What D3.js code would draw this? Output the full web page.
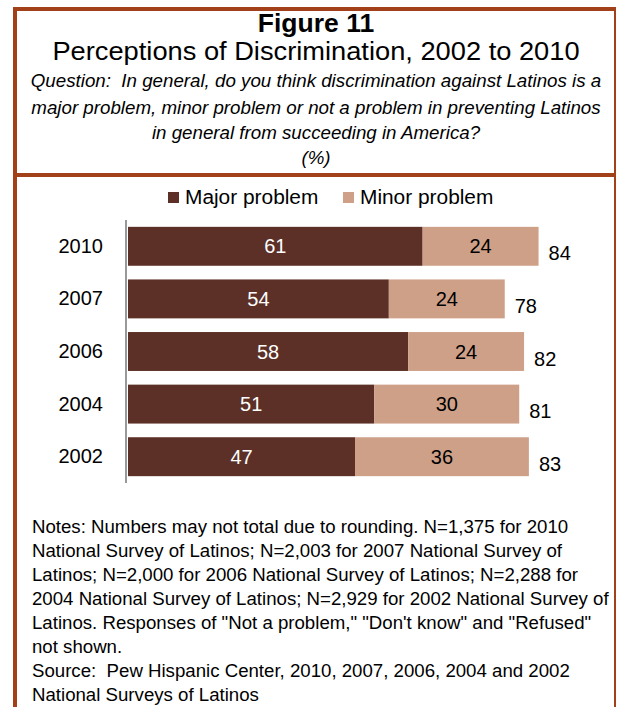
<!DOCTYPE html>
<html>
<head>
<meta charset="utf-8">
<script src="https://cdn.jsdelivr.net/npm/d3@7"></script>
<style>
  html, body { margin: 0; padding: 0; background: #fff; }
  svg { display: block; font-family: "Liberation Sans", Arial, sans-serif; }
  svg text { white-space: pre; }
</style>
</head>
<body>
<svg id="chart" width="618" height="707"></svg>
<script>
// Survey years, top to bottom
const years = ["2010", "2007", "2006", "2004", "2002"];
// Share saying discrimination is a major / minor problem (%)
const majorProblem = [61, 54, 58, 51, 47];
const minorProblem = [24, 24, 24, 30, 36];
// Published combined totals (may differ from the sum due to rounding)
const totals = [84, 78, 82, 81, 83];

const seriesNames = ["Major problem", "Minor problem"];
const seriesColors = ["#5c3026", "#cfa088"];

const titleText = "Figure 11";
const subtitleText = "Perceptions of Discrimination, 2002 to 2010";
const questionLines = [
  "Question:  In general, do you think discrimination against Latinos is a",
  "major problem, minor problem or not a problem in preventing Latinos",
  "in general from succeeding in America?",
  "(%)"
];
const noteLines = [
  "Notes: Numbers may not total due to rounding. N=1,375 for 2010",
  "National Survey of Latinos; N=2,003 for 2007 National Survey of",
  "Latinos; N=2,000 for 2006 National Survey of Latinos; N=2,288 for",
  "2004 National Survey of Latinos; N=2,929 for 2002 National Survey of",
  "Latinos. Responses of \"Not a problem,\" \"Don't know\" and \"Refused\"",
  "not shown."
];
const sourceLines = [
  "Source:  Pew Hispanic Center, 2010, 2007, 2006, 2004 and 2002",
  "National Surveys of Latinos"
];

const svg = d3.select("#chart");
const borderColor = "#a2401a";

// Widen text slightly, in the manner of the original typesetting
function widen(sel, factor) {
  sel.each(function () {
    const w = this.getComputedTextLength();
    d3.select(this).attr("textLength", w * factor).attr("lengthAdjust", "spacingAndGlyphs");
  });
  return sel;
}

// Frame: heavy left/top rules, thin right rule, divider under the header
svg.append("line").attr("x1", 15).attr("x2", 15).attr("y1", 7).attr("y2", 707)
  .attr("stroke", borderColor).attr("stroke-width", 4);
svg.append("line").attr("x1", 13).attr("x2", 616).attr("y1", 9).attr("y2", 9)
  .attr("stroke", borderColor).attr("stroke-width", 4);
svg.append("line").attr("x1", 615).attr("x2", 615).attr("y1", 7).attr("y2", 707)
  .attr("stroke", borderColor).attr("stroke-width", 2);
svg.append("line").attr("x1", 13).attr("x2", 616).attr("y1", 175).attr("y2", 175)
  .attr("stroke", borderColor).attr("stroke-width", 4);

// Header
const cx = 316;
widen(svg.append("text").attr("x", cx).attr("y", 32).attr("text-anchor", "middle")
  .attr("font-size", 25).attr("font-weight", "bold").attr("fill", "#000").text(titleText), 1.06);
widen(svg.append("text").attr("x", cx).attr("y", 60).attr("text-anchor", "middle")
  .attr("font-size", 25).attr("fill", "#000").text(subtitleText), 1.09);
const qBase = [87, 114, 139, 164];
questionLines.forEach((t, i) => {
  widen(svg.append("text").attr("x", cx).attr("y", qBase[i]).attr("text-anchor", "middle")
    .attr("font-size", 17.5).attr("font-style", "italic").attr("fill", "#000").text(t), 1.07);
});

// Legend
const legendItems = [{x: 168}, {x: 343}];
seriesNames.forEach((name, i) => {
  const g = svg.append("g").attr("transform", `translate(${legendItems[i].x},192)`);
  g.append("rect").attr("width", 11).attr("height", 11).attr("fill", seriesColors[i]);
  widen(g.append("text").attr("x", 17).attr("y", 12).attr("font-size", 19.5)
    .attr("fill", "#000").text(name), 1.07);
});

// Scales
const x = d3.scaleLinear().domain([0, 100]).range([128, 611]);
const y = d3.scaleBand().domain(years).range([220, 483]).paddingInner(0.26).paddingOuter(0.13);

const rows = years.map((yr, i) => ({
  year: yr, major: majorProblem[i], minor: minorProblem[i], total: totals[i]
}));

const stack = d3.stack().keys(["major", "minor"]);
const layers = stack(rows);

const bars = svg.append("g");
layers.forEach((layer, li) => {
  bars.selectAll(null).data(layer).enter().append("rect")
    .attr("x", d => x(d[0]))
    .attr("y", d => y(d.data.year))
    .attr("width", d => x(d[1]) - x(d[0]))
    .attr("height", y.bandwidth())
    .attr("fill", seriesColors[li]);
  bars.selectAll(null).data(layer).enter().append("text")
    .attr("x", d => (x(d[0]) + x(d[1])) / 2)
    .attr("y", d => y(d.data.year) + y.bandwidth() / 2)
    .attr("dy", "0.35em")
    .attr("text-anchor", "middle")
    .attr("font-size", 20)
    .attr("fill", li === 0 ? "#fff" : "#000")
    .text(d => d[1] - d[0]);
});

// Totals to the right of each bar
svg.append("g").selectAll("text").data(rows).enter().append("text")
  .attr("x", d => x(d.major + d.minor) + 10)
  .attr("y", d => y(d.year) + y.bandwidth() / 2 + 7)
  .attr("dy", "0.35em")
  .attr("font-size", 20)
  .attr("fill", "#000")
  .text(d => d.total);

// Category axis
const axis = svg.append("g").attr("transform", "translate(126,0)")
  .call(d3.axisLeft(y).tickSize(0).tickPadding(23));
axis.select(".domain").attr("stroke", "#999").attr("stroke-width", 2)
  .attr("d", "M0,220V483");
axis.selectAll("text").attr("font-size", 20).attr("fill", "#000")
  .attr("font-family", "Liberation Sans, Arial, sans-serif");

// Notes and source
noteLines.concat(sourceLines).forEach((t, i) => {
  widen(svg.append("text").attr("x", 32).attr("y", 533 + i * 24)
    .attr("font-size", 17.5).attr("fill", "#000").text(t), 1.065);
});
</script>
</body>
</html>
